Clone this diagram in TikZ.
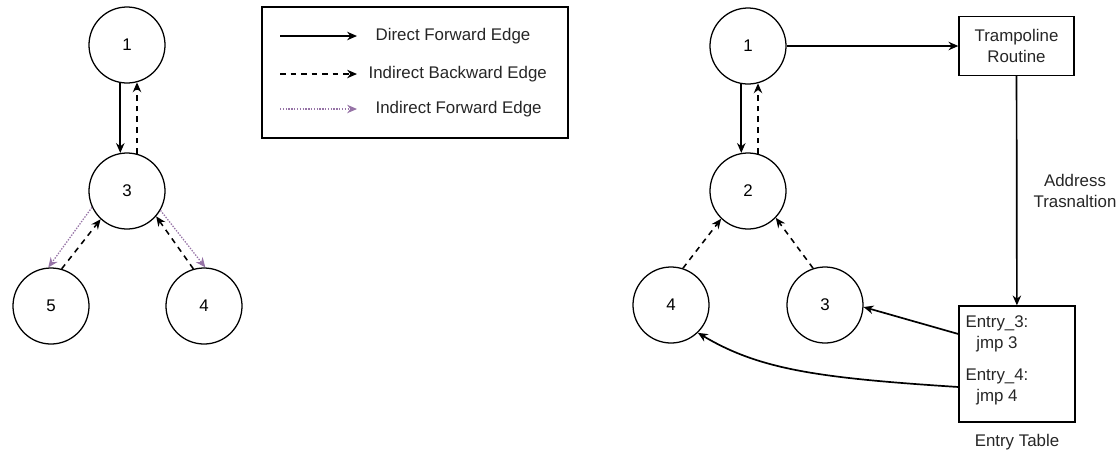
\documentclass[tikz,border=0pt]{standalone}
\usepackage{fontspec}
\setmainfont{Liberation Sans}
\usetikzlibrary{arrows.meta}

\def\nodesize{1.9cm}

\begin{document}
\begin{tikzpicture}[x=0.025cm,y=-0.025cm,draw=black,line width=0.9pt,font=\fontsize{12}{15}\selectfont]
    \tikzstyle{vertex}=[circle,draw=black,minimum size=\nodesize,inner sep=0pt]
    \tikzstyle{block}=[rectangle,draw=black,inner sep=0pt]
    \tikzstyle{annot}=[align=center,text=black!85]
    \tikzstyle{directedge}=[-{Stealth[length=7pt,width=6pt]},line width=1.2pt]
    \tikzstyle{backedge}=[-{Stealth[length=7pt,width=6pt]},line width=1.1pt,dash pattern=on 4pt off 3.5pt]
    \tikzstyle{fwdedge}=[-{Stealth[length=7pt,width=6pt]},draw={rgb,255:red,150;green,115;blue,166},dash pattern=on 1pt off 1pt]

    \useasboundingbox (0,0) rectangle (1120,450);

    \foreach \name / \x / \y in {1/127/45, 3/127/191, 5/51/306, 4/204/306}
        \node[vertex] (L-\name) at (\x,\y) {\name};

    \foreach \name / \x / \y in {1/748/46, 2/748/191, 4/671/305, 3/825/305}
        \node[vertex] (R-\name) at (\x,\y) {\name};

    \path (L-1.260) edge[directedge] (L-3.100);
    \path (L-3.75) edge[backedge] (L-1.285);
    \path (L-3.205) edge[fwdedge] (L-5.94);
    \path (L-5.74) edge[backedge] (L-3.227);
    \path (L-4.106) edge[backedge] (L-3.319);
    \path (L-3.330) edge[fwdedge] (L-4.88);

    \node[block,minimum width=7.65cm,minimum height=3.275cm] (legend) at (415,72.5) {};
    \foreach \kind / \y / \tx / \label in {directedge/36/375/Direct Forward Edge,
            backedge/74/368/Indirect Backward Edge, fwdedge/109/375/Indirect Forward Edge} {
        \coordinate (\kind-s) at (280,\y);
        \coordinate (\kind-t) at (357,\y);
        \path (\kind-s) edge[\kind] (\kind-t);
        \node[annot,anchor=west,inner sep=0pt] (\kind-text) at (\tx,\y) {\label};
    }

    \path (R-1.260) edge[directedge] (R-2.100);
    \path (R-2.75) edge[backedge] (R-1.285);
    \path (R-4.72) edge[backedge] (R-2.226);
    \path (R-3.108) edge[backedge] (R-2.316);

    \node[block,annot,minimum width=2.875cm,minimum height=1.475cm] (tramp) at (1016.5,46) {Trampoline\\Routine};
    \node[block,minimum width=2.9cm,minimum height=2.9cm] (table) at (1017,364) {};
    \node[annot] (e3) at (997,334) {Entry\_3:\\jmp 3};
    \node[annot] (e4) at (997,387) {Entry\_4:\\jmp 4};
    \node[annot,below of=table,node distance=1.95cm] (tlabel) {Entry Table};
    \node[annot] (addr) at (1075,191) {Address\\Trasnaltion};

    \path (R-1) edge[directedge] (tramp);
    \path (tramp) edge[directedge] (table);
    \path (table.west |- e3) edge[directedge] (R-3.357);
    \draw[directedge] (table.west |- e4) .. controls (820,378) and (760,370) .. (R-4.314);
\end{tikzpicture}
\end{document}
